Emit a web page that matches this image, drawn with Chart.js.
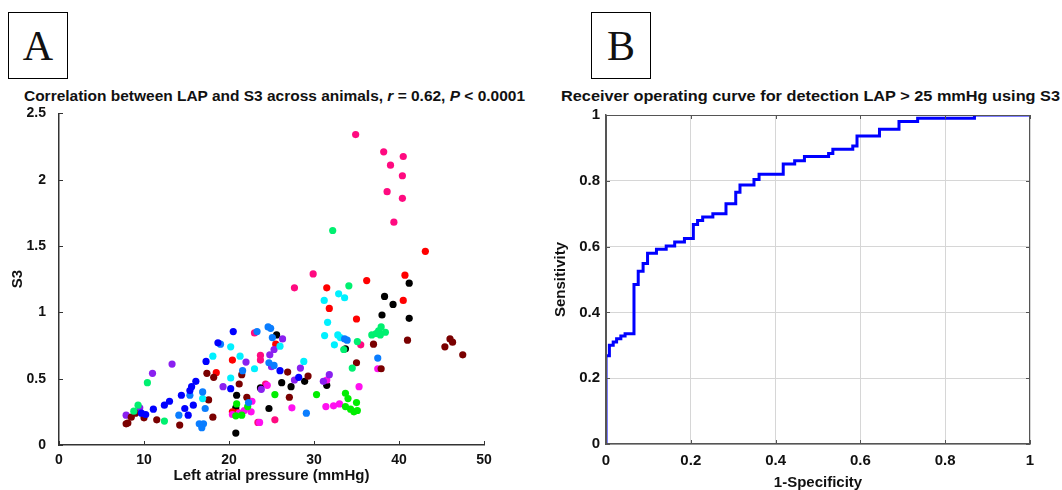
<!DOCTYPE html>
<html lang="en">
<head>
<meta charset="UTF-8">
<title>LAP vs S3 and ROC</title>
<script src="https://cdn.jsdelivr.net/npm/chart.js"></script>
<style>
  body { margin: 0; background: #fff; width: 1062px; height: 490px; position: relative; overflow: hidden;
         font-family: "Liberation Sans", Arial, sans-serif; color: #111; }
  .tag { position: absolute; top: 12px; width: 58px; height: 65px; border: 1.5px solid #000;
         font-family: "Liberation Serif", "Times New Roman", serif; font-size: 42px; line-height: 66px; text-align: center; }
  .ttl { position: absolute; top: 87px; font-size: 15px; font-weight: bold; white-space: nowrap; transform-origin: left top; }
  canvas { position: absolute; top: 100px; }
</style>
</head>
<body>

<div class="tag" style="left:8px">A</div>
<div class="tag" style="left:591px">B</div>
<div class="ttl" id="ttlA" data-w="501" style="left:24px">Correlation between LAP and S3 across animals, <i>r</i> = 0.62, <i>P</i> &lt; 0.0001</div>
<div class="ttl" id="ttlB" data-w="499" style="left:561px">Receiver operating curve for detection LAP &gt; 25 mmHg using S3</div>

<canvas id="scatterChart" width="530" height="390" style="left:0"></canvas>
<canvas id="rocChart" width="532" height="390" style="left:530px"></canvas>

<script>
    // scatter points [LAP mmHg, S3] grouped by animal colour
    const blue = [[20.5,0.855],[18.7,0.77],[17.3,0.63],[16.1,0.48],[15.6,0.44],[15.4,0.41],[14.4,0.375],[13.0,0.33],
                  [12.4,0.30],[11.1,0.27],[9.7,0.24],[10.2,0.23],[14.8,0.275],[15.2,0.225],[15.8,0.30],[20.2,0.425],
                  [26.0,0.56],[28.2,0.51]];
    const azure = [[19.0,0.76],[23.3,0.855],[24.6,0.89],[24.9,0.88],[25.1,0.81],[21.6,0.56],[24.7,0.62],[15.4,0.375],
                   [16.9,0.40],[17.2,0.275],[14.1,0.225],[16.5,0.16],[17.0,0.16],[16.8,0.13],[29.1,0.24],[33.6,0.80],
                   [33.9,0.79],[37.5,0.655],[25.3,0.60],[22.3,0.32]];
    const cyan = [[20.2,0.74],[21.3,0.67],[18.1,0.67],[23.0,0.575],[26.0,0.745],[16.9,0.35],[28.8,0.63],[20.2,0.505],
                  [32.9,1.14],[33.6,1.11],[31.2,1.09],[31.6,0.925],[31.25,0.825],[32.8,0.83],[33.1,0.81],[32.4,0.755]];
    const springGreen = [[32.2,1.617],[34.1,1.2],[33.5,0.72],[35.1,0.78],[34.5,0.58],[36.8,0.83],[37.3,0.84],[37.6,0.86],
                         [37.9,0.89],[38.4,0.85],[37.8,0.83],[10.4,0.47],[12.4,0.18],[8.8,0.255],[9.3,0.30]];
    const green = [[20.9,0.31],[21.5,0.225],[22.2,0.29],[25.4,0.38],[30.3,0.38],[33.7,0.39],[34.0,0.35],[33.7,0.29],
                   [34.3,0.27],[34.7,0.25],[35.1,0.26],[35.0,0.32],[20.8,0.22]];
    const red = [[43.1,1.46],[40.7,1.28],[36.2,1.24],[31.5,1.185],[40.5,1.09],[31.8,1.03],[35.0,0.95],[25.5,0.76],
                 [20.4,0.64],[18.5,0.545],[20.4,0.25],[21.0,0.245]];
    const black = [[41.2,1.22],[38.3,1.12],[39.3,1.06],[38.0,0.98],[41.2,0.955],[33.7,0.725],[25.6,0.83],[26.2,0.47],
                   [27.3,0.44],[28.9,0.48],[31.5,0.45],[23.7,0.43],[20.9,0.375],[20.8,0.28],[20.8,0.09],[24.7,0.275]];
    const maroon = [[17.4,0.54],[18.2,0.51],[17.6,0.34],[18.1,0.21],[14.2,0.15],[11.5,0.19],[7.9,0.16],[9.0,0.24],
                    [8.5,0.21],[10.0,0.205],[21.2,0.46],[21.5,0.53],[22.1,0.36],[26.9,0.55],[27.1,0.36],[29.3,0.52],
                    [35.0,0.62],[37.0,0.76],[37.9,0.575],[41.0,0.79],[45.4,0.74],[46.0,0.80],[46.3,0.775],[47.5,0.68],[8.1,0.165]];
    const deepPink = [[34.9,2.34],[38.2,2.21],[40.5,2.175],[39.0,2.11],[40.4,2.03],[38.6,1.91],[40.4,1.86],[39.4,1.68],
                      [29.9,1.29],[27.7,1.185],[23.0,0.845],[23.7,0.675],[23.7,0.64],[24.3,0.46],[23.4,0.17],[25.4,0.19],[35.5,0.755]];
    const purple = [[26.3,0.80],[25.3,0.72],[24.8,0.68],[22.0,0.625],[25.0,0.59],[27.7,0.49],[28.4,0.58],[13.3,0.61],
                    [11.0,0.54],[7.9,0.225],[9.5,0.28],[19.3,0.44],[31.1,0.48],[31.8,0.53],[23.8,0.42]];
    const magenta = [[21.2,0.24],[21.8,0.26],[22.7,0.33],[22.6,0.25],[23.6,0.17],[27.4,0.28],[31.5,0.49],[35.3,0.44],
                     [31.4,0.29],[32.3,0.295],[33.0,0.31],[37.5,0.575],[24.5,0.45],[20.4,0.23]];

    const groups = [
        [blue, '#0000ff'], [azure, '#0a7dff'], [cyan, '#00f0ff'], [springGreen, '#00f070'], [green, '#00ee00'],
        [maroon, '#7a0000'], [purple, '#8a20f0'], [magenta, '#ff10f0'], [red, '#ff0000'], [black, '#000000'],
        [deepPink, '#ff0a80']
    ];

    // ROC step vertices (1-specificity, sensitivity)
    const fpr = [0, 0, 0.008, 0.017, 0.025, 0.035, 0.045, 0.066, 0.076, 0.0875, 0.098, 0.119, 0.142, 0.162, 0.185,
                 0.206, 0.216, 0.228, 0.252, 0.283, 0.306, 0.316, 0.349, 0.361, 0.418, 0.445, 0.468, 0.525, 0.535,
                 0.582, 0.592, 0.645, 0.691, 0.735, 0.869, 1.0];
    const tpr = [0, 0.268, 0.30, 0.31, 0.32, 0.328, 0.335, 0.485, 0.525, 0.549, 0.58, 0.592, 0.602, 0.614, 0.625,
                 0.667, 0.679, 0.69, 0.70, 0.73, 0.765, 0.787, 0.804, 0.82, 0.851, 0.861, 0.874, 0.883, 0.896,
                 0.906, 0.936, 0.957, 0.98, 0.99, 1.0, 1.0];

    const scatterX = { min: 0, max: 50, step: 10 };
    const scatterY = { min: 0, max: 2.5, step: 0.5 };
    const rocTicks = { min: 0, max: 1, step: 0.2 };

    Chart.defaults.font.family = "'Liberation Sans', Arial, sans-serif";
    Chart.defaults.color = '#111';

    // plain numbers like matlab: 1 instead of 1.0
    const plain = v => String(Math.round(v * 100) / 100);

    // matlab style ticks pointing into the plot, optional full box
    const innerTicks = {
        id: 'innerTicks',
        afterDatasetsDraw(chart, args, opts) {
            const { ctx, chartArea: a } = chart;
            const len = opts.len || 4;
            const xs = chart.scales.x, ys = chart.scales.y;
            ctx.save();
            ctx.strokeStyle = opts.color || '#333';
            ctx.lineWidth = 1;
            ctx.beginPath();
            xs.ticks.forEach(t => {
                const px = Math.round(xs.getPixelForValue(t.value)) + 0.5;
                ctx.moveTo(px, a.bottom); ctx.lineTo(px, a.bottom - len);
                if (opts.box) { ctx.moveTo(px, a.top); ctx.lineTo(px, a.top + len); }
            });
            ys.ticks.forEach(t => {
                const py = Math.round(ys.getPixelForValue(t.value)) + 0.5;
                ctx.moveTo(a.left, py); ctx.lineTo(a.left + len, py);
                if (opts.box) { ctx.moveTo(a.right, py); ctx.lineTo(a.right - len, py); }
            });
            if (opts.box) ctx.rect(a.left + 0.5, a.top + 0.5, a.width - 1, a.height - 1);
            ctx.stroke();
            ctx.restore();
        }
    };

    new Chart(document.getElementById('scatterChart'), {
        type: 'scatter',
        data: {
            datasets: groups.map(([pts, col]) => ({
                data: pts.map(p => ({ x: p[0], y: p[1] })),
                backgroundColor: col,
                borderWidth: 0,
                pointRadius: 3.6
            }))
        },
        options: {
            responsive: false,
            animation: false,
            layout: { padding: { left: 0, top: 11, right: 46, bottom: 0 } },
            plugins: { legend: { display: false }, tooltip: { enabled: false },
                       innerTicks: { len: 4, color: '#333' } },
            scales: {
                x: {
                    type: 'linear', min: scatterX.min, max: scatterX.max,
                    ticks: { stepSize: scatterX.step, padding: -1, font: { size: 14, weight: 'bold' }, color: '#111',
                             callback: plain },
                    grid: { display: false },
                    border: { display: true, color: '#333', width: 1.5 },
                    title: { display: true, text: 'Left atrial pressure (mmHg)', font: { size: 15, weight: 'bold' },
                             padding: { top: 0, bottom: 5 } },
                    afterFit(s) { s.height = 45; }
                },
                y: {
                    type: 'linear', min: scatterY.min, max: scatterY.max,
                    ticks: { stepSize: scatterY.step, padding: 5, font: { size: 14, weight: 'bold' }, color: '#111',
                             callback: plain },
                    grid: { display: false },
                    border: { display: true, color: '#333', width: 1.5 },
                    title: { display: true, text: 'S3', font: { size: 15, weight: 'bold' },
                             padding: { top: 9, bottom: 0 } },
                    afterFit(s) { s.width = 59; }
                }
            }
        },
        plugins: [innerTicks]
    });

    new Chart(document.getElementById('rocChart'), {
        type: 'line',
        data: {
            datasets: [{
                data: fpr.map((v, i) => ({ x: v, y: tpr[i] })),
                borderColor: '#0000ff',
                borderWidth: 3,
                pointRadius: 0,
                stepped: 'before',
                fill: false
            }]
        },
        options: {
            responsive: false,
            animation: false,
            layout: { padding: { left: 0, top: 11, right: 32, bottom: 0 } },
            plugins: { legend: { display: false }, tooltip: { enabled: false },
                       innerTicks: { len: 4, color: '#555', box: true } },
            scales: {
                x: {
                    type: 'linear', min: rocTicks.min, max: rocTicks.max,
                    ticks: { stepSize: rocTicks.step, padding: 8, font: { size: 15, weight: 'bold' }, color: '#111',
                             callback: plain },
                    grid: { color: '#d6d6d6', drawTicks: false },
                    border: { display: true, color: '#555', width: 1.5 },
                    title: { display: true, text: '1-Specificity', font: { size: 15, weight: 'bold', lineHeight: 1 },
                             padding: { top: 0, bottom: 0 } },
                    afterFit(s) { s.height = 46; }
                },
                y: {
                    type: 'linear', min: rocTicks.min, max: rocTicks.max,
                    ticks: { stepSize: rocTicks.step, padding: 6, font: { size: 15, weight: 'bold' }, color: '#111',
                             callback: plain },
                    grid: { color: '#d6d6d6', drawTicks: false },
                    border: { display: true, color: '#555', width: 1.5 },
                    title: { display: true, text: 'Sensitivity', font: { size: 15, weight: 'bold' },
                             padding: { top: 22, bottom: 0 } },
                    afterFit(s) { s.width = 76; }
                }
            }
        },
        plugins: [innerTicks]
    });

    // squeeze titles to the width they take in the figure
    document.querySelectorAll('.ttl').forEach(el => {
        const w = el.getBoundingClientRect().width;
        el.style.transform = 'scaleX(' + (Number(el.dataset.w) / w) + ')';
    });
</script>

</body>
</html>
